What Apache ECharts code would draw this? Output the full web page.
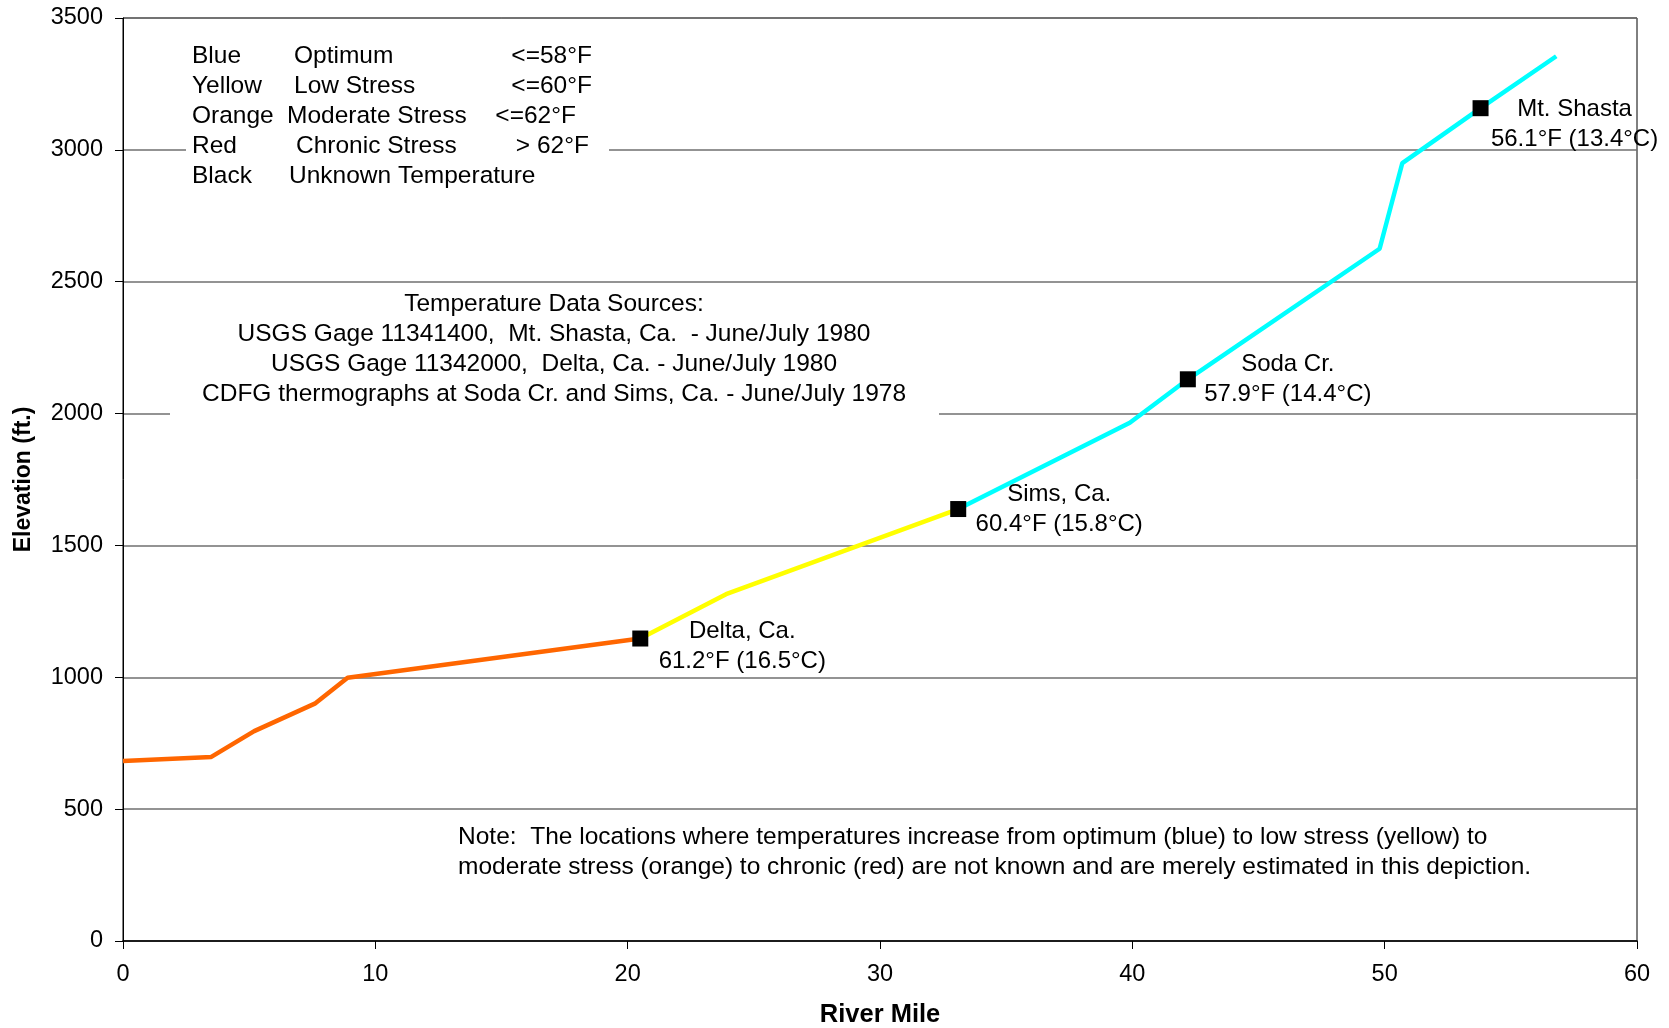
<!DOCTYPE html>
<html>
<head>
<meta charset="utf-8">
<script src="https://cdn.jsdelivr.net/npm/echarts@6/dist/echarts.min.js"></script>
<style>
html,body{margin:0;padding:0;background:#fff;}
#chart{width:1669px;height:1028px;}
</style>
</head>
<body>
<div id="chart"></div>
<script>
// ---- Data ----
const orangeMiles = [0, 3.5, 5.2, 7.6, 8.9, 20.5];
const orangeElev  = [683, 698, 796, 900, 998, 1147];
const yellowMiles = [20.5, 23.9, 33.1];
const yellowElev  = [1147, 1315, 1638];
const cyanMiles   = [33.1, 39.9, 42.2, 49.8, 50.7, 53.8, 56.8];
const cyanElev    = [1638, 1965, 2130, 2625, 2950, 3158, 3355];

const stationNames = ['Delta, Ca.', 'Sims, Ca.', 'Soda Cr.', 'Mt. Shasta'];
const stationMiles = [20.5, 33.1, 42.2, 53.8];
const stationElev  = [1147, 1638, 2130, 3158];
const stationTemps = ['61.2°F (16.5°C)', '60.4°F (15.8°C)', '57.9°F (14.4°C)', '56.1°F (13.4°C)'];

const xTicks = [0, 10, 20, 30, 40, 50, 60];
const yTicks = [0, 500, 1000, 1500, 2000, 2500, 3000, 3500];

const legendColors = ['Blue', 'Yellow', 'Orange', 'Red', 'Black'];
const legendMeaning = ['Optimum', 'Low Stress', 'Moderate Stress', 'Chronic Stress', 'Unknown Temperature'];
const legendLimits = ['<=58°F', '<=60°F', '<=62°F', '> 62°F', ''];

const sourceLines = [
  'Temperature Data Sources:',
  'USGS Gage 11341400,  Mt. Shasta, Ca.  - June/July 1980',
  'USGS Gage 11342000,  Delta, Ca. - June/July 1980',
  'CDFG thermographs at Soda Cr. and Sims, Ca. - June/July 1978'
];
const noteLines = [
  'Note:  The locations where temperatures increase from optimum (blue) to low stress (yellow) to',
  'moderate stress (orange) to chronic (red) are not known and are merely estimated in this depiction.'
];

// ---- Layout (positions only) ----
const FONT = '"Liberation Sans", Arial, sans-serif';
const FS = 23.5;
const FT = 24.5;
const labelOffsets = [[102, 8], [101, 0], [100, 0], [94, 16]];
const meaningX = [294, 294, 287, 296, 289];
const limitRightX = [592, 592, 576, 589, 589];
const legendY = [56, 86, 116, 146, 176];

const zip = (a, b) => a.map((v, i) => [v, b[i]]);

const graphics = [];
graphics.push({type:'rect', z:3, shape:{x:186, y:32, width:423, height:160}, style:{fill:'#fff'}});
graphics.push({type:'rect', z:3, shape:{x:170, y:288, width:769, height:135}, style:{fill:'#fff'}});
legendColors.forEach((c, i) => {
  graphics.push({type:'text', z:4, x:192, y:legendY[i], style:{text:c, font:`${FT}px ${FONT}`, fill:'#000', textVerticalAlign:'middle', textAlign:'left'}});
  graphics.push({type:'text', z:4, x:meaningX[i], y:legendY[i], style:{text:legendMeaning[i], font:`${FT}px ${FONT}`, fill:'#000', textVerticalAlign:'middle', textAlign:'left'}});
  if (legendLimits[i]) graphics.push({type:'text', z:4, x:limitRightX[i], y:legendY[i], style:{text:legendLimits[i], font:`${FT}px ${FONT}`, fill:'#000', textVerticalAlign:'middle', textAlign:'right'}});
});
sourceLines.forEach((t, i) => {
  graphics.push({type:'text', z:4, x:554, y:304 + i*30, style:{text:t, font:`${FT}px ${FONT}`, fill:'#000', textVerticalAlign:'middle', textAlign:'center'}});
});
noteLines.forEach((t, i) => {
  graphics.push({type:'text', z:4, x:458, y:837 + i*30, style:{text:t, font:`${FT}px ${FONT}`, fill:'#000', textVerticalAlign:'middle', textAlign:'left'}});
});

const chart = echarts.init(document.getElementById('chart'));
chart.setOption({
  animation: false,
  backgroundColor: '#fff',
  textStyle: {fontFamily: FONT},
  grid: {left: 123, right: 32, top: 18, bottom: 87, show: true, borderColor: '#000', borderWidth: 1, backgroundColor: 'transparent', containLabel: false, outerBoundsMode: 'none'},
  xAxis: {
    type: 'value', min: xTicks[0], max: xTicks[xTicks.length-1], interval: 10,
    name: 'River Mile', nameLocation: 'middle', nameGap: 61,
    nameTextStyle: {fontSize: 25.5, fontWeight: 'bold', color: '#000', fontFamily: FONT},
    axisLine: {show: true, lineStyle: {color: '#000', width: 1.5}},
    axisTick: {show: true, length: 8, lineStyle: {color: '#000'}},
    axisLabel: {fontSize: FS, color: '#000', margin: 22, fontFamily: FONT},
    splitLine: {show: false}
  },
  yAxis: {
    type: 'value', min: yTicks[0], max: yTicks[yTicks.length-1], interval: 500,
    name: 'Elevation (ft.)', nameLocation: 'middle', nameGap: 88,
    nameTextStyle: {fontSize: 23, fontWeight: 'bold', color: '#000', fontFamily: FONT},
    axisLine: {show: true, lineStyle: {color: '#000', width: 1}},
    axisTick: {show: true, length: 8, lineStyle: {color: '#000'}},
    axisLabel: {fontSize: FS, color: '#000', margin: 20, fontFamily: FONT, formatter: v => String(v)},
    splitLine: {show: true, lineStyle: {color: '#6f6f6f', width: 1.5}}
  },
  graphic: graphics,
  series: [
    {type: 'line', data: zip(orangeMiles, orangeElev), symbol: 'none', lineStyle: {color: '#FF6600', width: 4.5}, z: 5},
    {type: 'line', data: zip(yellowMiles, yellowElev), symbol: 'none', lineStyle: {color: '#FFFF00', width: 4.5}, z: 5},
    {type: 'line', data: zip(cyanMiles, cyanElev), symbol: 'none', lineStyle: {color: '#00FFFF', width: 4.5}, z: 5},
    {
      type: 'scatter', z: 6, clip: false,
      symbol: 'rect', symbolSize: 16,
      itemStyle: {color: '#000', opacity: 1},
      data: stationNames.map((n, i) => ({
        value: [stationMiles[i], stationElev[i]],
        label: {
          show: true, position: 'inside', offset: labelOffsets[i],
          align: 'center', verticalAlign: 'middle',
          formatter: n + '\n' + stationTemps[i],
          fontSize: 24, lineHeight: 30, color: '#000', fontFamily: FONT,
          textBorderWidth: 0
        }
      }))
    }
  ]
});
</script>
</body>
</html>
